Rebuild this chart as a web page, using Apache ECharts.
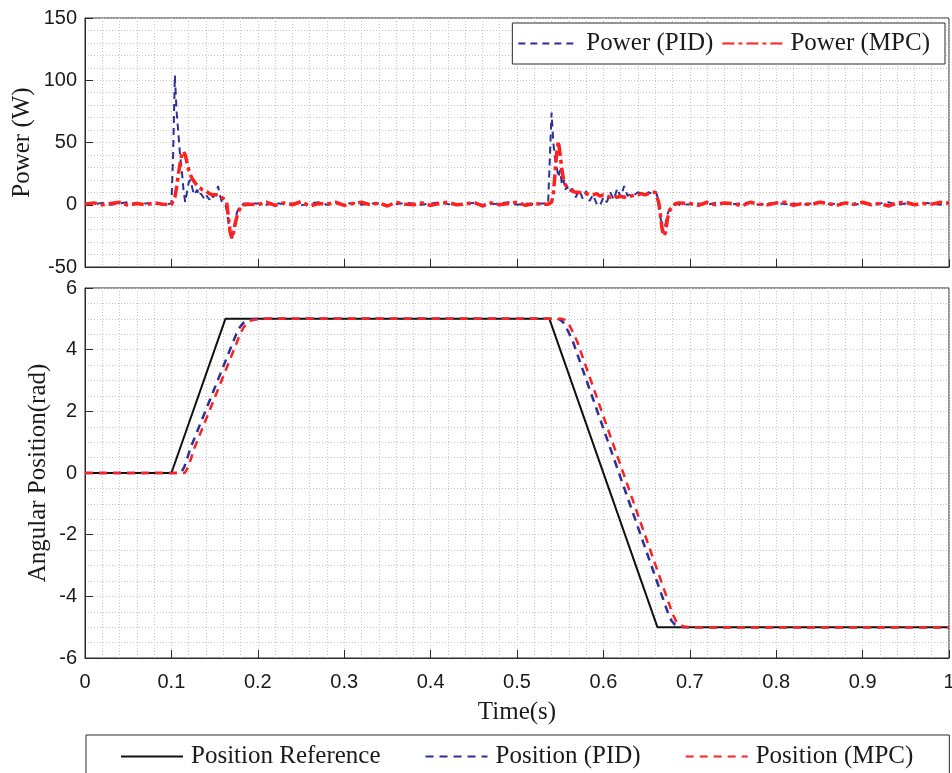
<!DOCTYPE html>
<html>
<head>
<meta charset="utf-8">
<script src="https://cdn.jsdelivr.net/npm/echarts@6/dist/echarts.min.js"></script>
<style>
  html, body { margin: 0; padding: 0; background: #ffffff; }
  #chart { width: 952px; height: 773px; }
</style>
</head>
<body>
<div id="chart"></div>
<script>
// ---------- Power (W) samples, split into time segments ----------
const timeA = [0, 0.01, 0.02, 0.03, 0.04, 0.05, 0.06, 0.07, 0.08, 0.09, 0.1];
const pidA  = [1, 0.5, 1.5, 0, 1, 2, 0.5, 1, 1.5, 0, 1];
const mpcA  = [0.5, 1.5, 0, 1, 2, -0.5, 1, 0, 1.5, 0.5, 0];

const timeB = [0.102, 0.104, 0.106, 0.108, 0.110, 0.112, 0.114, 0.116, 0.118, 0.120,
               0.122, 0.124, 0.126, 0.128, 0.130, 0.132, 0.134, 0.136, 0.138, 0.140,
               0.142, 0.144, 0.146, 0.148, 0.150, 0.152, 0.154, 0.156, 0.158, 0.160,
               0.162, 0.164, 0.166, 0.168, 0.170, 0.172, 0.174, 0.176, 0.178, 0.180,
               0.182, 0.184, 0.186, 0.188, 0.190];
const pidB  = [40, 104, 75, 58, 40, 28, 12, 2, 10, 18,
               20, 14, 8, 10, 12, 7, 9, 10, 5, 8,
               7, 4, 8, 6, 5, 9, 15, 8, 3, 4,
               1, -4, -14, -22, -28, -20, -12, -6, -3, -1,
               0, 1, 0.5, 1, 0];
const mpcB  = [1, 6, 14, 24, 33, 40, 43, 40, 34, 28,
               24, 21, 19, 17, 16, 14, 13, 12, 11, 11,
               10, 9, 9, 8, 8, 8, 7, 7, 6, 5,
               4, 2, -10, -22, -27, -22, -15, -9, -5, -2,
               0, 1, 0, 1, 0.5];

const timeC = [0.20, 0.21, 0.22, 0.23, 0.24, 0.25, 0.26, 0.27, 0.28, 0.29,
               0.30, 0.31, 0.32, 0.33, 0.34, 0.35, 0.36, 0.37, 0.38, 0.39,
               0.40, 0.41, 0.42, 0.43, 0.44, 0.45, 0.46, 0.47, 0.48, 0.49,
               0.50, 0.51, 0.52, 0.53];
const pidC  = [1, 0, 1.5, 0.5, 1, -0.5, 1, 2, 0, 1,
               0.5, 1.5, 0, 1, 1, -0.5, 0.5, 1.5, 1, 0,
               1, 2, 0.5, 0, 1, 1.5, 0, 0.5, 1, 2,
               0, 1, 0.5, 1];
const mpcC  = [0, 2, -0.5, 1.5, 0, 2.5, -1, 1, 0.5, 2,
               -0.5, 1, 2, 0, 1.5, -1, 2, 0.5, 0, 1.5,
               -0.5, 1, 2, 0, 0.5, 2, -1, 1.5, 0, 1,
               2, -0.5, 1, 0.5];

const timeD = [0.536, 0.538, 0.540, 0.542, 0.544, 0.546, 0.548, 0.550, 0.552, 0.554,
               0.556, 0.558, 0.560,
               0.564, 0.568, 0.572, 0.576, 0.580, 0.584, 0.588, 0.592, 0.596, 0.600,
               0.604, 0.608, 0.612, 0.616, 0.620, 0.624, 0.628, 0.632, 0.636, 0.640,
               0.644, 0.648, 0.652, 0.656, 0.660,
               0.662, 0.664, 0.666, 0.668, 0.670, 0.672, 0.674, 0.676, 0.678, 0.680,
               0.682, 0.684, 0.686, 0.688, 0.690];
const pidD  = [1, 0, 74, 50, 38, 30, 22, 28, 16, 20,
               12, 15, 10,
               13, 6, 12, 5, 11, 3, 8, 1, -1, 6,
               2, 10, 4, 13, 6, 15, 7, 9, 8, 10,
               9, 8, 10, 9, 11,
               8, 0, -10, -18, -22, -15, -8, -4, -2, 0,
               1, 0.5, 1, 0, 1];
const mpcD  = [0.5, 1, 2, 8, 25, 42, 51, 40, 28, 20,
               16, 14, 13,
               11, 10, 10, 9, 9, 8, 8, 9, 7, 8,
               7, 6, 7, 6, 7, 6, 7, 7, 8, 8,
               9, 8, 9, 10, 10,
               9, 2, -8, -20, -25, -22, -12, -6, -3, -1,
               0, 1, 0, 1.5, 0];

const timeE = [0.70, 0.71, 0.72, 0.73, 0.74, 0.75, 0.76, 0.77, 0.78, 0.79,
               0.80, 0.81, 0.82, 0.83, 0.84, 0.85, 0.86, 0.87, 0.88, 0.89,
               0.90, 0.91, 0.92, 0.93, 0.94, 0.95, 0.96, 0.97, 0.98, 0.99, 1.00];
const pidE  = [0.5, 1, 0, 1.5, 1, 0.5, 1, 2, 0, 1,
               1.5, 0.5, 1, 0, 1, 2, 0.5, 1, 1.5, 0,
               1, 0.5, 1, 2, 0, 1, 0.5, 1.5, 1, 0, 1];
const mpcE  = [1, -0.5, 2, 0, 1.5, 1, -1, 2, 0.5, 0,
               1.5, 2, -0.5, 1, 0, 2, 1, -0.5, 1.5, 0.5,
               2, 0, 1, -1, 1.5, 2, 0, 1, 0.5, 2, 1.5];

// ---------- Angular position (rad) ----------
const refTime = [0, 0.1, 0.1625, 0.5375, 0.6625, 1];
const refPos  = [0, 0, 5, 5, -5, -5];

const pidPosTime = [0, 0.111, 0.113, 0.115, 0.118, 0.122, 0.145, 0.175, 0.179, 0.183,
                    0.188, 0.195, 0.2, 0.547, 0.550, 0.553, 0.556, 0.560, 0.565, 0.675,
                    0.679, 0.683, 0.688, 0.695, 1];
const pidPos     = [0, 0, 0.05, 0.2, 0.45, 0.8, 2.4, 4.5, 4.72, 4.86,
                    4.95, 4.99, 5, 5, 4.97, 4.9, 4.77, 4.55, 4.24, -4.56,
                    -4.8, -4.92, -4.98, -5, -5];

const mpcPosTime = [0, 0.1155, 0.1175, 0.1195, 0.1225, 0.1265, 0.1495, 0.1795, 0.1835, 0.1875,
                    0.1925, 0.2, 0.205, 0.552, 0.555, 0.558, 0.561, 0.565, 0.570, 0.680,
                    0.684, 0.688, 0.693, 0.7, 1];
const mpcPos     = [0, 0, 0.05, 0.2, 0.45, 0.8, 2.4, 4.5, 4.72, 4.86,
                    4.95, 4.99, 5, 5, 4.97, 4.9, 4.77, 4.55, 4.24, -4.56,
                    -4.8, -4.92, -4.98, -5, -5];

// ---------- Tick labels ----------
const timeTickLabels  = ['0', '0.1', '0.2', '0.3', '0.4', '0.5', '0.6', '0.7', '0.8', '0.9', '1'];
const powerTickLabels = ['-50', '0', '50', '100', '150'];
const angleTickLabels = ['-6', '-4', '-2', '0', '2', '4', '6'];

// ---------- Assemble ----------
const powerTime = [].concat(timeA, timeB, timeC, timeD, timeE);
const powerPID  = [].concat(pidA, pidB, pidC, pidD, pidE);
const powerMPC  = [].concat(mpcA, mpcB, mpcC, mpcD, mpcE);
const pairs = (xs, ys) => xs.map((x, i) => [x, ys[i]]);

const SERIF = '"Liberation Serif", "Times New Roman", serif';
const SANS  = '"Liberation Sans", Arial, sans-serif';
const BLUE  = '#2d2f96';
const RED   = '#ff2020';
const AXIS  = '#2b2b2b';

const dotted = { show: true, lineStyle: { color: '#c6c6c6', width: 1, type: [1, 2] } };

function timeAxis(gridIndex, withLabels) {
  return {
    gridIndex, type: 'value', min: 0, max: 1, interval: 0.1,
    axisLine: { show: true, onZero: false, lineStyle: { color: AXIS, width: 1 } },
    axisTick: { show: true, inside: true, length: 8, lineStyle: { color: AXIS } },
    minorTick: { show: false, splitNumber: 5 },
    splitLine: dotted, minorSplitLine: dotted,
    axisLabel: withLabels ? {
      show: true, margin: 14, fontFamily: SANS, fontSize: 20, color: '#1a1a1a',
      formatter: v => timeTickLabels[Math.round(v * 10)]
    } : { show: false },
    name: withLabels ? 'Time(s)' : '',
    nameLocation: 'middle', nameGap: 42, nameMoveOverlap: false,
    nameTextStyle: { fontFamily: SERIF, fontSize: 25, color: '#1a1a1a' }
  };
}

function valueAxis(gridIndex, min, max, interval, minorSplit, labels, name, nameGap) {
  return {
    gridIndex, type: 'value', min, max, interval,
    axisLine: { show: true, onZero: false, lineStyle: { color: AXIS } },
    axisTick: { show: true, inside: true, length: 8, lineStyle: { color: AXIS } },
    minorTick: { show: false, splitNumber: minorSplit },
    splitLine: dotted, minorSplitLine: dotted,
    axisLabel: { margin: 8, fontFamily: SANS, fontSize: 20, color: '#1a1a1a',
                 formatter: v => labels[Math.round((v - min) / interval)] },
    name, nameLocation: 'middle', nameGap, nameMoveOverlap: false,
    nameTextStyle: { fontFamily: SERIF, fontSize: 25, color: '#1a1a1a' }
  };
}

const legendCommon = {
  orient: 'horizontal',
  itemHeight: 20,
  borderColor: AXIS, borderWidth: 1, backgroundColor: '#ffffff',
  itemStyle: { opacity: 0 },
  textStyle: { fontFamily: SERIF, fontSize: 25, color: '#1a1a1a', padding: [0, 0, 0, 3] }
};

const option = {
  animation: false,
  backgroundColor: '#ffffff',
  grid: [
    { left: 85, right: 3, top: 18, height: 249, outerBoundsMode: 'none', containLabel: false,
      show: true, borderColor: AXIS, borderWidth: 1 },
    { left: 85, right: 3, top: 288, height: 370, outerBoundsMode: 'none', containLabel: false,
      show: true, borderColor: AXIS, borderWidth: 1 }
  ],
  xAxis: [timeAxis(0, false), timeAxis(1, true)],
  yAxis: [
    valueAxis(0, -50, 150, 50, 5, powerTickLabels, 'Power (W)', 50),
    valueAxis(1, -6, 6, 2, 4, angleTickLabels, 'Angular Position(rad)', 34)
  ],
  legend: [
    Object.assign({}, legendCommon, {
      data: ['Power (PID)', 'Power (MPC)'],
      right: 7, top: 23,
      itemWidth: 60, itemGap: 8,
      padding: [8, 15, 8, 5]
    }),
    Object.assign({}, legendCommon, {
      data: ['Position Reference', 'Position (PID)', 'Position (MPC)'],
      left: 86, top: 735, width: 830,
      itemWidth: 62, itemGap: 44,
      padding: [9, 36, 40, 34]
    })
  ],
  series: [
    {
      name: 'Power (PID)', type: 'line', xAxisIndex: 0, yAxisIndex: 0,
      data: pairs(powerTime, powerPID), symbol: 'none',
      itemStyle: { color: BLUE },
      lineStyle: { color: BLUE, width: 2, type: [7, 5] }
    },
    {
      name: 'Power (MPC)', type: 'line', xAxisIndex: 0, yAxisIndex: 0,
      data: pairs(powerTime, powerMPC), symbol: 'none',
      itemStyle: { color: RED },
      lineStyle: { color: RED, width: 3.5, type: [12, 4, 4, 4] }
    },
    {
      name: 'Position Reference', type: 'line', xAxisIndex: 1, yAxisIndex: 1,
      data: pairs(refTime, refPos), symbol: 'none',
      itemStyle: { color: '#111111' },
      lineStyle: { color: '#111111', width: 2 }
    },
    {
      name: 'Position (PID)', type: 'line', xAxisIndex: 1, yAxisIndex: 1,
      data: pairs(pidPosTime, pidPos), symbol: 'none',
      itemStyle: { color: BLUE },
      lineStyle: { color: BLUE, width: 2.5, type: [8, 6] }
    },
    {
      name: 'Position (MPC)', type: 'line', xAxisIndex: 1, yAxisIndex: 1,
      data: pairs(mpcPosTime, mpcPos), symbol: 'none',
      itemStyle: { color: RED },
      lineStyle: { color: RED, width: 2.5, type: [8, 6] }
    }
  ]
};

const chart = echarts.init(document.getElementById('chart'), null, { renderer: 'canvas' });
chart.setOption(option);
</script>
</body>
</html>
